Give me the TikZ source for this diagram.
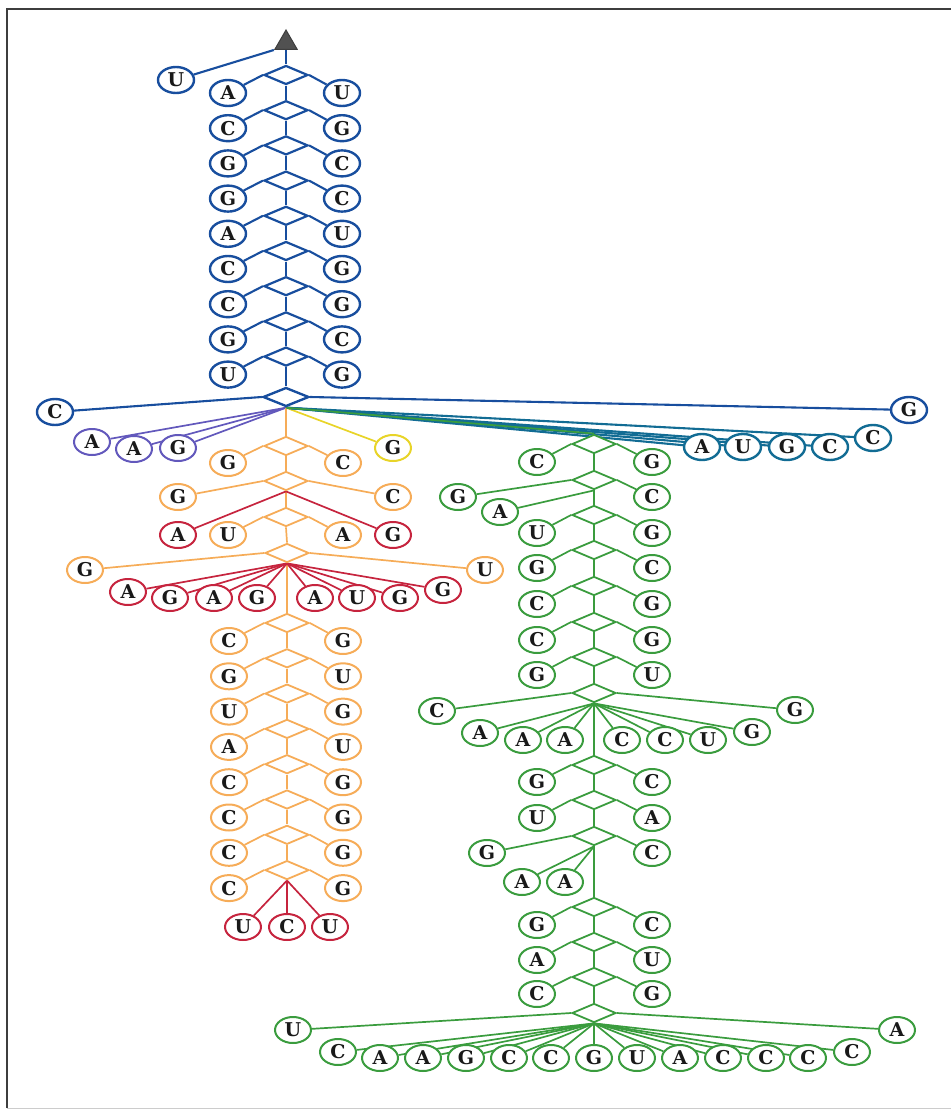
\documentclass[tikz,border=0pt]{standalone}
\usepackage{fontspec}
\setmainfont{DejaVu Serif}
\usetikzlibrary{shapes.geometric,backgrounds}

\definecolor{rnablue}{RGB}{24,78,158}
\definecolor{rnapurple}{RGB}{98,88,188}
\definecolor{rnayellow}{RGB}{232,212,40}
\definecolor{rnateal}{RGB}{18,108,148}
\definecolor{rnaorange}{RGB}{246,172,88}
\definecolor{rnared}{RGB}{198,36,62}
\definecolor{rnagreen}{RGB}{58,156,62}
\definecolor{framegray}{RGB}{62,62,62}
\definecolor{letter}{RGB}{25,25,25}

\begin{document}
\begin{tikzpicture}[x=1pt, y=-1pt,
  base node/.style={ellipse, draw=#1, fill=white, line width=2pt, minimum width=36pt, minimum height=26pt, inner sep=0pt, text=letter, font=\bfseries\fontsize{19}{19}\selectfont},
  pair node/.style={diamond, draw=#1, fill=white, line width=1.8pt, minimum width=44pt, minimum height=19pt, inner sep=0pt},
  root node/.style={regular polygon, regular polygon sides=3, draw=framegray, fill=framegray!90, line width=1pt, minimum size=26pt, inner sep=0pt},
  link/.style={#1, line width=1.7pt},
  thick link/.style={#1, line width=2.1pt}]
\useasboundingbox (0,0) rectangle (951,1110);
\draw [framegray, line width=2.5pt] (7,1108) -- (7,9) -- (951,9);
\draw [black!20, line width=1pt] (7,1108) -- (951,1108);

% 5' end and top helix
\node [root node] (root) at (286,43) {};
\node [base node=rnablue, line width=2.4pt] (u5) at (176,80) {U};
\foreach \nl/\nr [count=\i] in {A/U,C/G,G/C,G/C,A/U,C/G,C/G,G/C,U/G} {
  \node [pair node=rnablue, line width=2.2pt] (b\i) at (286,{75+35.2*(\i-1)}) {};
  \node [base node=rnablue, line width=2.4pt] (bl\i) at (228,{93+35.2*(\i-1)}) {\nl};
  \node [base node=rnablue, line width=2.4pt] (br\i) at (342,{93+35.2*(\i-1)}) {\nr};
}

% multiloop
\node [pair node=rnablue, line width=2.4pt, minimum width=46pt] (m) at (286,397) {};
\node [base node=rnablue, line width=2.4pt] (mC) at (55,412) {C};
\node [base node=rnablue, line width=2.4pt] (mG) at (909,410) {G};
\foreach \nt/\x/\y [count=\i] in {A/92/442,A/134/449,G/178/448}
  \node [base node=rnapurple] (p\i) at (\x,\y) {\nt};
\node [base node=rnayellow] (y1) at (393,448) {G};
\foreach \nt/\x/\y [count=\i] in {A/702/447,U/743/447,G/787/447,C/830/447,C/873/438}
  \node [base node=rnateal, line width=2.4pt] (t\i) at (\x,\y) {\nt};

\begin{scope}[on background layer]
  \path [thick link=rnablue]
    (root.corner 2) edge (u5)
    (root.south) edge (b1.north)
    (b9.south) edge (m.north)
    (m.west) edge (mC)
    (m.east) edge (mG);
  \foreach \i [evaluate=\i as \j using int(\i+1)] in {1,...,8}
    \path [thick link=rnablue] (b\i.south) edge (b\j.north);
  \foreach \i in {1,...,9}
    \path [thick link=rnablue] (b\i.west) edge (bl\i) (b\i.east) edge (br\i);
  \foreach \i in {1,2,3}
    \path [link=rnapurple] (m.south) edge (p\i);
  \path [link=rnayellow] (m.south) edge (y1);
  \foreach \i in {1,...,5}
    \path [thick link=rnateal] (m.south) edge (t\i);
\end{scope}

% orange arm
\node [pair node=rnaorange] (o1) at (286,446) {};
\node [base node=rnaorange] (ol1) at (228,463) {G};
\node [base node=rnaorange] (or1) at (343,463) {C};
\node [pair node=rnaorange] (o2) at (286,481) {};
\node [base node=rnaorange] (ol2) at (178,497) {G};
\node [base node=rnaorange] (or2) at (393,497) {C};
\node [base node=rnared] (rA) at (178,535) {A};
\node [base node=rnared] (rG) at (393,535) {G};
\node [pair node=rnaorange] (o3) at (286,517) {};
\node [base node=rnaorange] (ol3) at (228,535) {U};
\node [base node=rnaorange] (or3) at (343,535) {A};
\node [pair node=rnaorange] (o4) at (287,553) {};
\node [base node=rnaorange] (ol4) at (85,570) {G};
\node [base node=rnaorange] (or4) at (485,570) {U};
\foreach \nt/\x/\y [count=\i] in {A/128/592,G/170/598,A/214/598,G/257/598,A/315/598,U/357/598,G/400/598,G/443/590}
  \node [base node=rnared] (ri\i) at (\x,\y) {\nt};
\foreach \nl/\nr [count=\i from 5] in {C/G,G/U,U/G,A/U,C/G,C/G,C/G,C/G} {
  \node [pair node=rnaorange] (o\i) at (287,{623+35.3*(\i-5)}) {};
  \node [base node=rnaorange] (ol\i) at (229,{641+35.3*(\i-5)}) {\nl};
  \node [base node=rnaorange] (or\i) at (343,{641+35.3*(\i-5)}) {\nr};
}
\foreach \nt/\x [count=\i] in {U/243,C/287,U/330}
  \node [base node=rnared] (h\i) at (\x,927) {\nt};

\begin{scope}[on background layer]
  \path [link=rnaorange] (m.south) edge (o1.north);
  \foreach \i [evaluate=\i as \j using int(\i+1)] in {1,...,11}
    \path [link=rnaorange] (o\i.south) edge (o\j.north);
  \foreach \i in {1,...,12}
    \path [link=rnaorange] (o\i.west) edge (ol\i) (o\i.east) edge (or\i);
  \path [link=rnared] (o2.south) edge (rA) (o2.south) edge (rG);
  \foreach \i in {1,...,8}
    \path [link=rnared] (o4.south) edge (ri\i);
  \foreach \i in {1,2,3}
    \path [link=rnared] (o12.south) edge (h\i);
\end{scope}

% green arm
\foreach \nl/\lx/\ly/\nr/\rx/\ry/\d [count=\i] in {
    C/537/462/G/652/462/444, G/458/497/C/652/497/480,
    U/537/533/G/652/533/515, G/537/568/C/652/568/550,
    C/537/604/G/652/604/586, C/537/640/G/652/640/622,
    G/537/675/U/652/675/657, C/437/711/G/795/710/693,
    G/537/782/C/652/782/765, U/537/818/A/652/818/800,
    G/487/853/C/652/853/836, G/537/925/C/652/925/907,
    A/537/960/U/652/960/942, C/537/994/G/652/994/977,
    U/293/1030/A/897/1030/1013} {
  \node [pair node=rnagreen] (g\i) at (594,\d) {};
  \node [base node=rnagreen] (gl\i) at (\lx,\ly) {\nl};
  \node [base node=rnagreen] (gr\i) at (\rx,\ry) {\nr};
}
\node [base node=rnagreen] (ga) at (500,512) {A};
\foreach \nt/\x/\y [count=\i] in {A/480/733,A/523/740,A/565/740,C/622/740,C/665/740,U/708/740,G/752/732}
  \node [base node=rnagreen] (gi\i) at (\x,\y) {\nt};
\foreach \nt/\x [count=\i] in {A/522,A/565}
  \node [base node=rnagreen] (gb\i) at (\x,882) {\nt};
\foreach \nt/\x/\y [count=\i] in {C/338/1052,A/380/1058,A/423/1058,G/466/1058,C/509/1058,C/551/1058,G/594/1058,U/637/1058,A/680/1058,C/723/1058,C/766/1058,C/808/1058,C/852/1052}
  \node [base node=rnagreen] (ge\i) at (\x,\y) {\nt};

\begin{scope}[on background layer]
  \path [link=rnagreen] (m.south) edge (g1.north) (g2.south) edge (ga);
  \foreach \i [evaluate=\i as \j using int(\i+1)] in {1,...,14}
    \path [link=rnagreen] (g\i.south) edge (g\j.north);
  \foreach \i in {1,...,15}
    \path [link=rnagreen] (g\i.west) edge (gl\i) (g\i.east) edge (gr\i);
  \foreach \i in {1,...,7}
    \path [link=rnagreen] (g8.south) edge (gi\i);
  \foreach \i in {1,2}
    \path [link=rnagreen] (g11.south) edge (gb\i);
  \foreach \i in {1,...,13}
    \path [link=rnagreen] (g15.south) edge (ge\i);
\end{scope}
\end{tikzpicture}
\end{document}
